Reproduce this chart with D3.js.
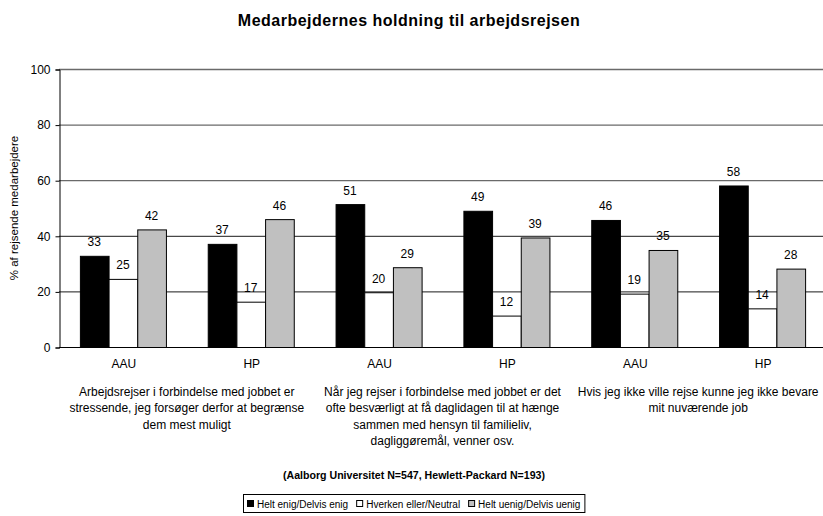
<!DOCTYPE html>
<html>
<head>
<meta charset="utf-8">
<script src="https://cdn.jsdelivr.net/npm/d3@7"></script>
<style>
  html, body { margin: 0; padding: 0; background: #fff; }
  svg { display: block; font-family: "Liberation Sans", Arial, sans-serif; }
</style>
</head>
<body>
<svg id="chart" width="823" height="516"></svg>
<script>
const title = "Medarbejdernes holdning til arbejdsrejsen";
const subtitle = "(Aalborg Universitet N=547, Hewlett-Packard N=193)";
const yAxisLabel = "% af rejsende medarbejdere";
const groups = ["AAU", "HP", "AAU", "HP", "AAU", "HP"];
const seriesNames = ["Helt enig/Delvis enig", "Hverken eller/Neutral", "Helt uenig/Delvis uenig"];
const enig = [32.8, 37.1, 51.4, 49.0, 45.7, 58.1];
const neutral = [24.5, 16.3, 19.7, 11.3, 19.2, 13.9];
const uenig = [42.3, 46.0, 28.7, 39.4, 34.9, 28.2];
const enigLabels = [33, 37, 51, 49, 46, 58];
const neutralLabels = [25, 17, 20, 12, 19, 14];
const uenigLabels = [42, 46, 29, 39, 35, 28];
const yTicks = [0, 20, 40, 60, 80, 100];
const questions = [
  ["Arbejdsrejser i forbindelse med jobbet er", "stressende, jeg forsøger derfor at begrænse", "dem mest muligt"],
  ["Når jeg rejser i forbindelse med jobbet er det", "ofte besværligt at få daglidagen til at hænge", "sammen med hensyn til familieliv,", "dagliggøremål, venner osv."],
  ["Hvis jeg ikke ville rejse kunne jeg ikke bevare", "mit nuværende job"]
];
const colors = ["#000000", "#ffffff", "#c0c0c0"];

const svg = d3.select("#chart");
const pLeft = 59, pRight = 826, pTop = 69, pBottom = 347;

const x0 = d3.scaleBand().domain(d3.range(groups.length)).range([pLeft, pRight])
  .paddingInner(0.327).paddingOuter(0.1635);
const x1 = d3.scaleBand().domain(d3.range(seriesNames.length)).range([0, x0.bandwidth()]);
const y = d3.scaleLinear().domain([0, 100]).range([pBottom, pTop]);

// gridlines
svg.append("g").selectAll("line").data(yTicks.filter(t => t > 0)).join("line")
  .attr("x1", pLeft).attr("x2", pRight)
  .attr("y1", d => y(d) + 0.5).attr("y2", d => y(d) + 0.5)
  .attr("stroke", d => d >= 60 ? "#6a6a6a" : "#1a1a1a")
  .attr("stroke-width", d => d >= 60 ? 1.3 : 1);

// y axis
const yAxis = d3.axisLeft(y).tickValues(yTicks).tickSize(4).tickPadding(5);
const gy = svg.append("g").attr("transform", `translate(${pLeft + 0.5},0.5)`).call(yAxis);
gy.select(".domain").attr("stroke", "#000");
gy.selectAll(".tick line").attr("stroke", "#000");
gy.selectAll("text").attr("font-size", 12).attr("fill", "#000")
  .attr("font-family", "Liberation Sans, Arial, sans-serif");

// bars
const seriesVals = [enig, neutral, uenig];
const seriesLabels = [enigLabels, neutralLabels, uenigLabels];
const barData = [];
groups.forEach((g, i) => {
  seriesVals.forEach((vals, s) => {
    barData.push({ g: i, s: s, v: vals[i], label: seriesLabels[s][i] });
  });
});
svg.append("g").selectAll("rect").data(barData).join("rect")
  .attr("x", d => x0(d.g) + x1(d.s) + 0.5)
  .attr("y", d => y(d.v) + 0.5)
  .attr("width", x1.bandwidth())
  .attr("height", d => y(0) - y(d.v))
  .attr("fill", d => colors[d.s])
  .attr("stroke", "#000").attr("stroke-width", 1);

svg.append("g").selectAll("text").data(barData).join("text")
  .attr("x", d => x0(d.g) + x1(d.s) + x1.bandwidth() / 2)
  .attr("y", d => y(d.v) - 9.5)
  .attr("text-anchor", "middle").attr("font-size", 12).attr("fill", "#000")
  .text(d => d.label);

// x axis line
svg.append("line").attr("x1", pLeft).attr("x2", pRight)
  .attr("y1", pBottom + 0.5).attr("y2", pBottom + 0.5).attr("stroke", "#000");

// category labels
svg.append("g").selectAll("text").data(groups).join("text")
  .attr("x", (d, i) => x0(i) + x0.bandwidth() / 2 + 1)
  .attr("y", 368)
  .attr("text-anchor", "middle").attr("font-size", 12).text(d => d);

// question labels
questions.forEach((lines, q) => {
  const cx = (x0(2 * q) + x0(2 * q + 1) + x0.bandwidth()) / 2;
  svg.append("text").attr("text-anchor", "middle").attr("font-size", 12)
    .selectAll("tspan").data(lines).join("tspan")
    .attr("x", cx).attr("y", (d, i) => 396 + i * 16.3).text(d => d);
});

// title
svg.append("text").attr("x", 409).attr("y", 26).attr("text-anchor", "middle")
  .attr("font-size", 16).attr("letter-spacing", 0.5).attr("font-weight", "bold").text(title);

// y axis title
svg.append("text").attr("transform", `translate(18,${(pTop + pBottom) / 2}) rotate(-90)`)
  .attr("text-anchor", "middle").attr("font-size", 11.5).text(yAxisLabel);

// subtitle
svg.append("text").attr("x", 414).attr("y", 479).attr("text-anchor", "middle")
  .attr("font-size", 10.6).attr("font-weight", "bold").text(subtitle);

// legend
const lg = svg.append("g");
let lx = 0;
seriesNames.forEach((name, i) => {
  const g = lg.append("g");
  g.append("rect").attr("x", lx + 0.5).attr("y", 500.5).attr("width", 6).attr("height", 6)
    .attr("fill", colors[i]).attr("stroke", "#000");
  const t = g.append("text").attr("x", lx + 10).attr("y", 507.5).attr("font-size", 10).text(name);
  lx += 10 + t.node().getComputedTextLength() + (i < seriesNames.length - 1 ? 8 : 0);
});
const lw = lx + 8;
const lStart = Math.round(414 - lw / 2);
lg.attr("transform", `translate(${lStart + 4},0)`);
lg.insert("rect", ":first-child").attr("x", -3.5).attr("y", 494.5)
  .attr("width", lw).attr("height", 18).attr("fill", "#fff").attr("stroke", "#000");
</script>
</body>
</html>
